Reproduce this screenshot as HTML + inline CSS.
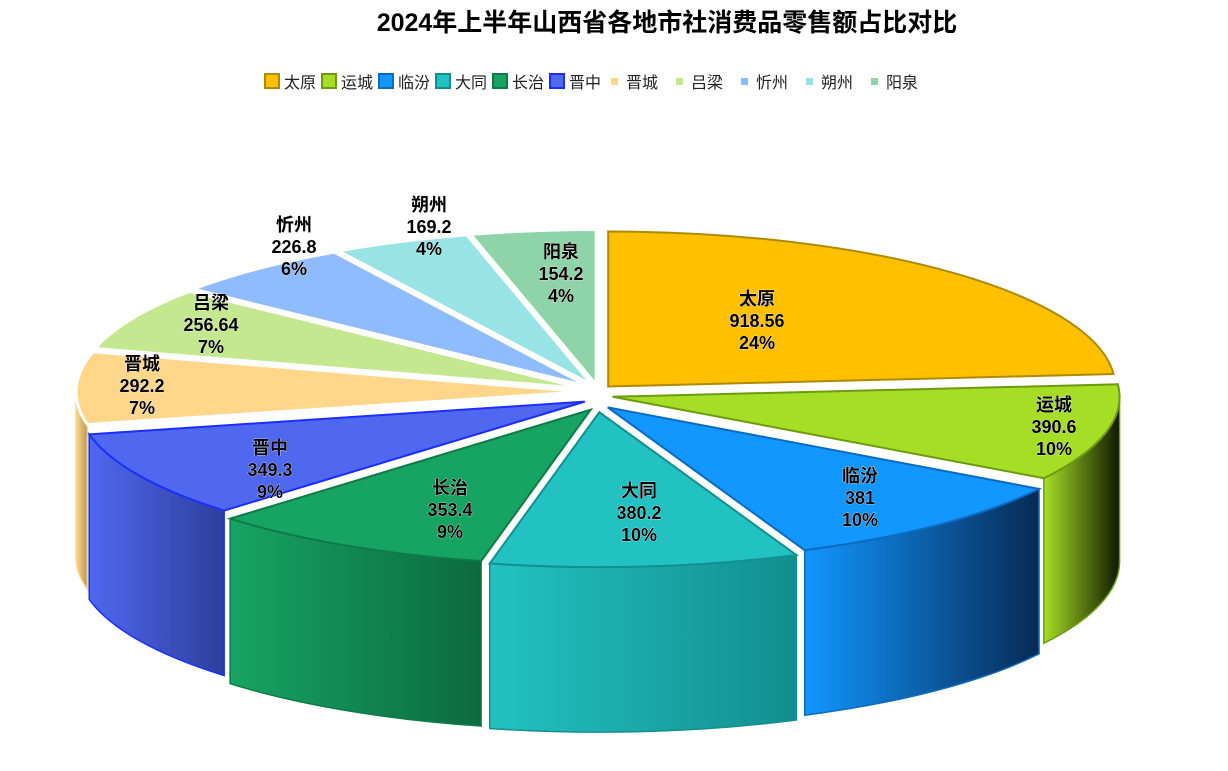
<!DOCTYPE html>
<html><head><meta charset="utf-8">
<style>
html,body{margin:0;padding:0;background:#fff;}
body{width:1228px;height:766px;overflow:hidden;font-family:"Liberation Sans","Noto Sans CJK SC",sans-serif;}
</style></head>
<body>
<svg id="s" width="1228" height="766" xmlns="http://www.w3.org/2000/svg" font-family="Liberation Sans, Noto Sans CJK SC, sans-serif">
<defs id="d"></defs>
<text x="667" y="31" text-anchor="middle" font-size="25" font-weight="bold" fill="#000">2024年上半年山西省各地市社消费品零售额占比对比</text>
<g id="leg" font-size="16" fill="#222"></g>
<g id="walls"></g>
<g id="tops"></g>
<g id="labels" font-size="18" font-weight="bold" text-anchor="middle" fill="#000" style="paint-order:stroke" stroke="#fff" stroke-width="0.6"></g>
</svg>
<script>
const NS="http://www.w3.org/2000/svg";
function el(t,a,p){const e=document.createElementNS(NS,t);for(const k in a)e.setAttribute(k,a[k]);if(p)p.appendChild(e);return e;}
const data=[["太原",918.56,"#FFC000","#B08A00","#8a6a00"],["运城",390.6,"#A5DE25","#6E9A10","#101800"],["临汾",381,"#1296FF","#0A6BC0","#062a55"],["大同",380.2,"#22C2C2","#148F8F","#128e8e"],["长治",353.4,"#17A462","#0E7A47","#0c6a3f"],["晋中",349.3,"#5067F0","#1A2EFF","#2d3f9a"],["晋城",292.2,"#FFD68A","#FFD68A","#b89858"],["吕梁",256.64,"#C4E890","#C4E890","#8aa860"],["忻州",226.8,"#8FBBFF","#8FBBFF","#6080b0"],["朔州",169.2,"#98E3E6","#98E3E6","#60a0a0"],["阳泉",154.2,"#8FD3A8","#8FD3A8","#60a080"]];
const tot=data.reduce((a,b)=>a+b[1],0);
const cx=598,cy=392,rx=507,ry=155,dep=165,ex=15;
const defs=document.getElementById('d'),W=document.getElementById('walls'),T=document.getElementById('tops');
const L=document.getElementById('leg');
let lx=265;
data.forEach((d,i)=>{
 if(i<6){el('rect',{x:lx,y:74,width:14,height:14,fill:d[2],stroke:d[3],'stroke-width':2},L);}
 else{el('rect',{x:lx+4,y:78,width:7,height:7,fill:d[2]},L);}
 const t=el('text',{x:lx+19,y:88},L);t.textContent=d[0];
 lx+=19+(i<6?38:46);
});
let a=-Math.PI/2;const sl=[];
data.forEach((d,i)=>{const s=d[1]/tot*2*Math.PI;sl.push({d,a1:a,a2:a+s,m:a+s/2,i});a+=s;});
function P(ox,oy,t){return [ox+rx*Math.cos(t),oy+ry*Math.sin(t)];}
sl.sort((p,q)=>Math.sin(p.m)-Math.sin(q.m));
sl.forEach(s=>{
 const d=s.d,sn=Math.sin(s.m),ox=cx+ex*Math.cos(s.m),oy=cy+ex*(sn>0?1.35:0.5)*sn;
 s.ox=ox;s.oy=oy;
 let t1=Math.max(s.a1,0),t2=Math.min(s.a2,Math.PI);
 if(t2>t1){
  const g=el('linearGradient',{id:'g'+s.i,x1:0,y1:0,x2:1,y2:0},defs);
  el('stop',{offset:0,'stop-color':d[2]},g);el('stop',{offset:1,'stop-color':d[4]},g);
  const A=P(ox,oy,t1),B=P(ox,oy,t2);
  const path=`M${A[0]},${A[1]} A${rx},${ry} 0 0 1 ${B[0]},${B[1]} L${B[0]},${B[1]+dep} A${rx},${ry} 0 0 0 ${A[0]},${A[1]+dep} Z`;
  el('path',{d:path,fill:`url(#g${s.i})`,stroke:d[3],'stroke-width':1.5},W);
 }
});
sl.forEach(s=>{
 const d=s.d,ox=s.ox,oy=s.oy;
 const A=P(ox,oy,s.a1),B=P(ox,oy,s.a2);
 const large=(s.a2-s.a1)>Math.PI?1:0;
 el('path',{d:`M${ox},${oy} L${A[0]},${A[1]} A${rx},${ry} 0 ${large} 1 ${B[0]},${B[1]} Z`,fill:d[2],stroke:s.i<6?d[3]:'#fff','stroke-width':s.i<6?2:3},T);
});
const labs=[["太原","918.56","24%",757,305],["运城","390.6","10%",1054,411],["临汾","381","10%",860,482],["大同","380.2","10%",639,497],["长治","353.4","9%",450,494],["晋中","349.3","9%",270,454],["晋城","292.2","7%",142,370],["吕梁","256.64","7%",211,309],["忻州","226.8","6%",294,231],["朔州","169.2","4%",429,211],["阳泉","154.2","4%",561,258]];
const LG=document.getElementById('labels');
labs.forEach(l=>{[l[0],l[1],l[2]].forEach((t,k)=>{const e=el('text',{x:l[3],y:l[4]+k*22},LG);e.textContent=t;});});
</script>
</body></html>
